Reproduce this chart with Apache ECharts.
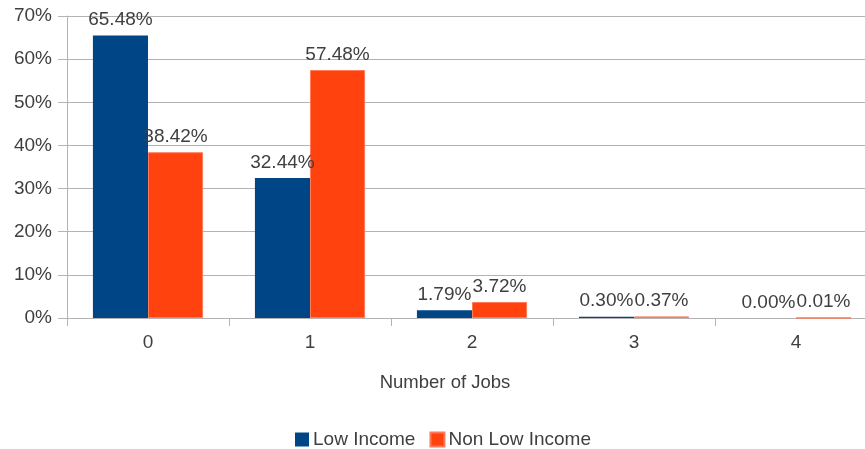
<!DOCTYPE html>
<html>
<head>
<meta charset="utf-8">
<script src="https://cdn.jsdelivr.net/npm/echarts@6/dist/echarts.min.js"></script>
<style>
  html, body { margin: 0; padding: 0; background: #fff; overflow: hidden; }
  /* plot area runs past the right edge in the reference */
  #chart { width: 877px; height: 449px; }
</style>
</head>
<body>
<div id="chart"></div>
<script>
// 数据
var categories = ["0", "1", "2", "3", "4"];
var lowIncome = [65.48, 32.44, 1.79, 0.30, 0.00];
var nonLowIncome = [38.42, 57.48, 3.72, 0.37, 0.01];
var yTicks = [0, 10, 20, 30, 40, 50, 60, 70];

var myChart = echarts.init(document.getElementById("chart"));
var font = "Liberation Sans";
var txtColor = "#3f3f3f";
var labelCfg = {
  show: true,
  position: "top",
  distance: 6,
  fontFamily: font,
  fontSize: 19,
  color: txtColor,
  formatter: function (p) { return p.value.toFixed(2) + "%"; }
};

myChart.setOption({
  animation: false,
  textStyle: { fontFamily: font },
  grid: { left: 67, top: 16, right: 0, bottom: 131, containLabel: false },
  legend: {
    top: 425,
    left: 290,
    itemWidth: 14,
    itemHeight: 14,
    itemGap: 14,
    icon: "rect",
    textStyle: { fontSize: 19, color: txtColor, fontFamily: font, padding: [0, 0, 0, -1] },
    data: ["Low Income", "Non Low Income"]
  },
  xAxis: {
    type: "category",
    data: categories,
    name: "Number of Jobs",
    nameLocation: "middle",
    nameGap: 55,
    nameTextStyle: { fontSize: 18.5, color: txtColor, fontFamily: font, padding: [0, 0, 0, -54] },
    axisLine: { lineStyle: { color: "#b3b3b3", width: 1 } },
    axisTick: { show: true, length: 8, lineStyle: { color: "#b3b3b3" } },
    axisLabel: { fontSize: 19, color: txtColor, margin: 15, fontFamily: font }
  },
  yAxis: {
    type: "value",
    min: 0,
    max: 70,
    interval: 10,
    axisLine: { show: true, lineStyle: { color: "#b3b3b3" } },
    axisTick: { show: true, length: 9, lineStyle: { color: "#b3b3b3" } },
    splitLine: { lineStyle: { color: "#b3b3b3" } },
    axisLabel: {
      fontSize: 19, color: txtColor, margin: 15, fontFamily: font,
      formatter: function (v) { return yTicks.indexOf(v) >= 0 ? v + "%" : ""; }
    }
  },
  series: [
    {
      name: "Low Income",
      type: "bar",
      data: lowIncome,
      barGap: "0%",
      barCategoryGap: "32%",
      itemStyle: { color: "#004586" },
      label: labelCfg
    },
    {
      name: "Non Low Income",
      type: "bar",
      data: nonLowIncome,
      itemStyle: { color: "#ff420e", borderColor: "#ff7a5a", borderWidth: 1 },
      label: labelCfg
    }
  ]
});
window.addEventListener("resize", function () { myChart.resize(); });
</script>
</body>
</html>
